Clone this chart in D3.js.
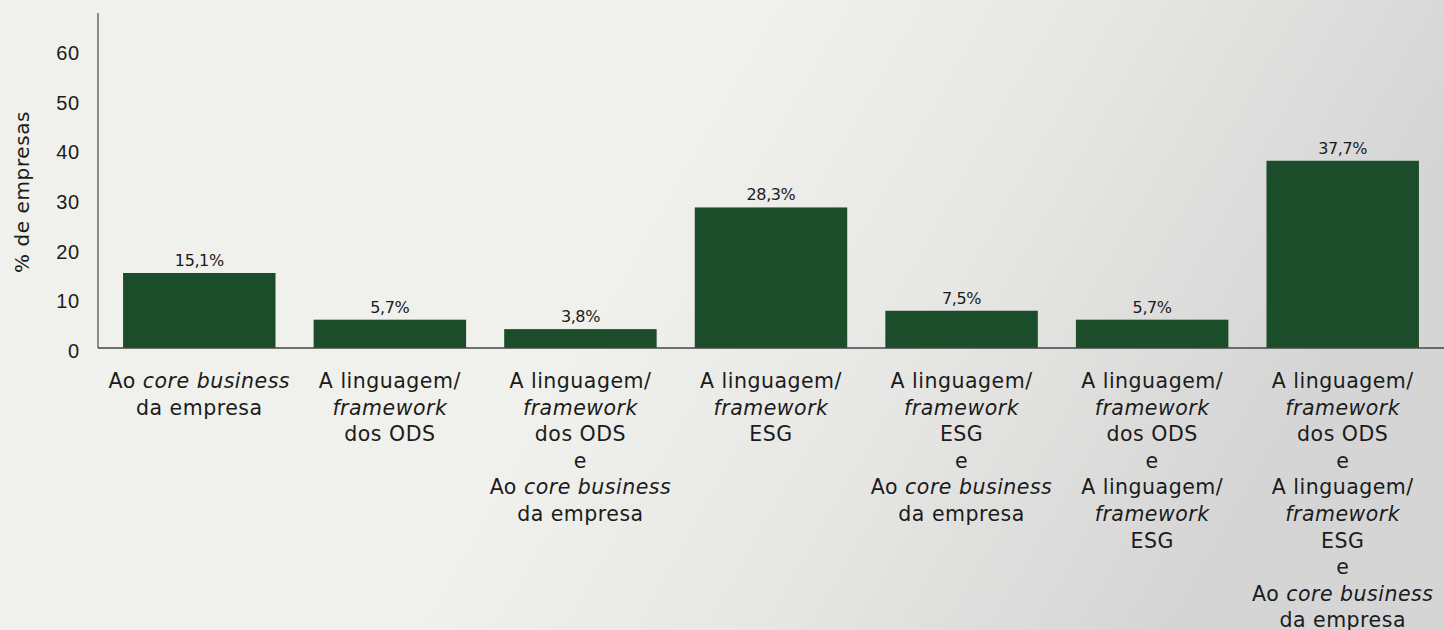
<!DOCTYPE html>
<html>
<head>
<meta charset="utf-8">
<script src="https://cdn.jsdelivr.net/npm/d3@7"></script>
<style>
  html, body { margin: 0; padding: 0; }
  body { width: 1444px; height: 630px; overflow: hidden; }
  svg { display: block; font-family: "DejaVu Sans", "Open Sans", sans-serif; }
</style>
</head>
<body>
<svg id="chart" width="1444" height="630"></svg>
<script>
// Category labels, one string per line; *text* marks italic words
const categories = [
  ["Ao *core business*", "da empresa"],
  ["A linguagem/", "*framework*", "dos ODS"],
  ["A linguagem/", "*framework*", "dos ODS", "e", "Ao *core business*", "da empresa"],
  ["A linguagem/", "*framework*", "ESG"],
  ["A linguagem/", "*framework*", "ESG", "e", "Ao *core business*", "da empresa"],
  ["A linguagem/", "*framework*", "dos ODS", "e", "A linguagem/", "*framework*", "ESG"],
  ["A linguagem/", "*framework*", "dos ODS", "e", "A linguagem/", "*framework*", "ESG", "e", "Ao *core business*", "da empresa"]
];
const values = [15.1, 5.7, 3.8, 28.3, 7.5, 5.7, 37.7];
const valueLabels = ["15,1%", "5,7%", "3,8%", "28,3%", "7,5%", "5,7%", "37,7%"];
const yTicks = [0, 10, 20, 30, 40, 50, 60];
const yTitle = "% de empresas";

const W = 1444, H = 630;
const svg = d3.select("#chart");

// Soft light-grey backdrop that darkens toward the right edge
const defs = svg.append("defs");
const grad = defs.append("linearGradient").attr("id", "bg")
  .attr("x1", "0").attr("y1", "0").attr("x2", "1").attr("y2", "0.25");
grad.append("stop").attr("offset", "0").attr("stop-color", "#f0f0ec");
grad.append("stop").attr("offset", "0.5").attr("stop-color", "#f0f0ec");
grad.append("stop").attr("offset", "0.72").attr("stop-color", "#e7e7e5");
grad.append("stop").attr("offset", "1").attr("stop-color", "#d5d5d5");
svg.append("rect").attr("width", W).attr("height", H).attr("fill", "url(#bg)");

const axisX = 98, baseY = 348, topY = 13;

const x = d3.scaleBand()
  .domain(d3.range(categories.length))
  .range([104, 1438])
  .paddingInner(0.2)
  .paddingOuter(0.1);

const y = d3.scaleLinear().domain([0, 60]).range([baseY, 50]);

const ink = "#1b1b1b";
const barColor = "#1c4d2a";

// Bars
svg.append("g").selectAll("rect")
  .data(values)
  .join("rect")
  .attr("x", (d, i) => x(i))
  .attr("y", d => y(d))
  .attr("width", x.bandwidth())
  .attr("height", d => y(0) - y(d))
  .attr("fill", barColor);

// Value labels above each bar
svg.append("g").selectAll("text")
  .data(values)
  .join("text")
  .attr("x", (d, i) => x(i) + x.bandwidth() / 2)
  .attr("y", d => y(d) - 7)
  .attr("text-anchor", "middle")
  .attr("font-size", 16)
  .attr("letter-spacing", -0.4)
  .attr("fill", ink)
  .text((d, i) => valueLabels[i]);

// Y axis: labels only, no tick marks
const yAxis = d3.axisLeft(y).tickValues(yTicks).tickSize(0).tickPadding(18)
  .tickFormat(d3.format("d"));
const gy = svg.append("g").attr("transform", `translate(${axisX},0)`).call(yAxis);
gy.select(".domain").remove();
gy.selectAll("text")
  .attr("font-size", 20)
  .attr("letter-spacing", 0.8)
  .attr("font-family", null)
  .attr("fill", ink)
  .attr("dy", "0.48em");

// Axis lines
svg.append("line")
  .attr("x1", axisX).attr("x2", axisX)
  .attr("y1", topY).attr("y2", baseY)
  .attr("stroke", "#555").attr("stroke-width", 1.3);
svg.append("line")
  .attr("x1", axisX).attr("x2", W)
  .attr("y1", baseY).attr("y2", baseY)
  .attr("stroke", "#444").attr("stroke-width", 1.3);

// Y axis title
svg.append("text")
  .attr("transform", `translate(29,192) rotate(-90)`)
  .attr("text-anchor", "middle")
  .attr("font-size", 20)
  .attr("letter-spacing", 0.6)
  .attr("fill", ink)
  .text(yTitle);

// Multi-line category labels with italic segments
const lineH = 26.6;
const catG = svg.append("g");
categories.forEach((lines, i) => {
  const cx = x(i) + x.bandwidth() / 2;
  lines.forEach((line, j) => {
    const t = catG.append("text")
      .attr("x", cx)
      .attr("y", 388 + j * lineH)
      .attr("text-anchor", "middle")
      .attr("font-size", 20.5)
      .attr("letter-spacing", 0.5)
      .attr("fill", ink);
    line.split(/(\*[^*]+\*)/).filter(s => s.length).forEach(seg => {
      const it = seg.startsWith("*");
      t.append("tspan")
        .attr("font-style", it ? "italic" : "normal")
        .text(it ? seg.slice(1, -1) : seg);
    });
  });
});
</script>
</body>
</html>
